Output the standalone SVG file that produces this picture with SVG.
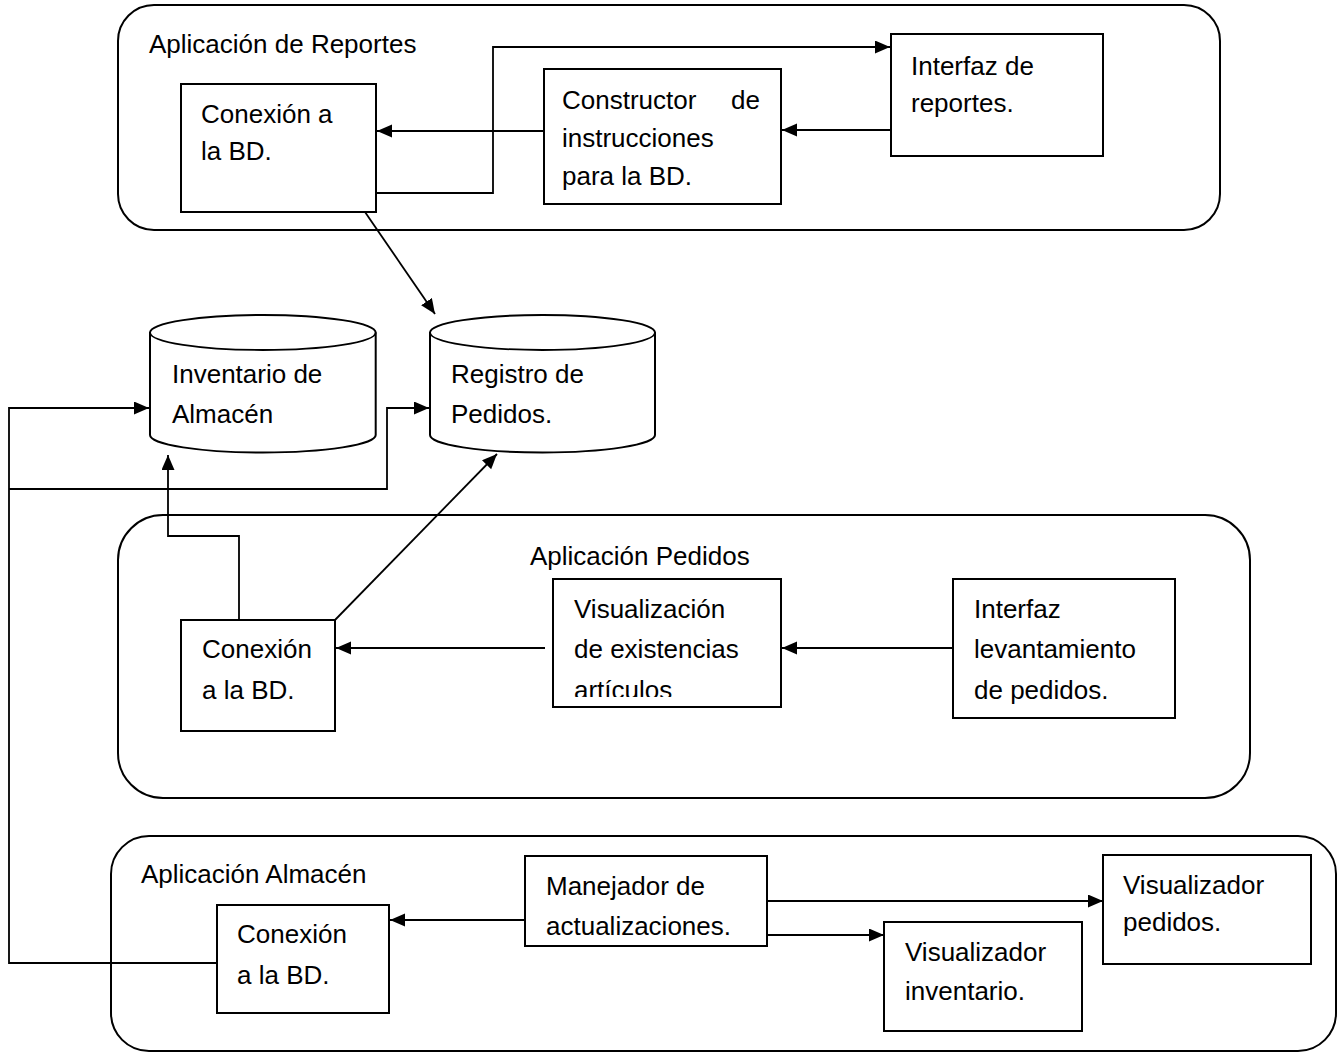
<svg xmlns="http://www.w3.org/2000/svg" width="1339" height="1054" viewBox="0 0 1339 1054">
  <style>
    .frame { fill: none; stroke: #000; stroke-width: 2; }
    .box { fill: #fff; stroke: #000; stroke-width: 2; }
    .db { fill: #fff; stroke: #000; stroke-width: 2; }
    .wire { fill: none; stroke: #000; stroke-width: 1.8; }
    text { font-family: "Liberation Sans", Arial, sans-serif; font-size: 26px; fill: #000; }
  </style>
  <defs>
    <marker id="arrow" markerUnits="userSpaceOnUse" markerWidth="16" markerHeight="14" refX="15" refY="6.5" orient="auto">
      <path d="M0,0 L15,6.5 L0,13 z" fill="#000"/>
    </marker>
    <clipPath id="clip-visualizacion">
      <rect x="553" y="580" width="227" height="117"/>
    </clipPath>
  </defs>

  <rect width="1339" height="1054" fill="#fff"/>

  <!-- application containers -->
  <g id="app-reportes">
    <rect class="frame" x="118" y="5" width="1102" height="225" rx="36" ry="36"/>
    <text x="149" y="53">Aplicación de Reportes</text>
  </g>
  <g id="app-pedidos">
    <rect class="frame" x="118" y="515" width="1132" height="283" rx="45" ry="45"/>
    <text x="530" y="565">Aplicación Pedidos</text>
  </g>
  <g id="app-almacen">
    <rect class="frame" x="111" y="836" width="1225" height="215" rx="38" ry="38"/>
    <text x="141" y="883">Aplicación Almacén</text>
  </g>

  <!-- connectors -->
  <g id="connectors">
    <line class="wire" x1="544" y1="131" x2="377" y2="131" marker-end="url(#arrow)"/>
    <line class="wire" x1="891" y1="130" x2="782" y2="130" marker-end="url(#arrow)"/>
    <polyline class="wire" points="376,193 493,193 493,47 890,47" marker-end="url(#arrow)"/>
    <line class="wire" x1="365" y1="212" x2="435" y2="314" marker-end="url(#arrow)"/>
    <polyline class="wire" points="217,963 9,963 9,408 149,408" marker-end="url(#arrow)"/>
    <polyline class="wire" points="9,489 387,489 387,408 429,408" marker-end="url(#arrow)"/>
    <polyline class="wire" points="239,620 239,536 168,536 168,455" marker-end="url(#arrow)"/>
    <line class="wire" x1="335" y1="620" x2="497" y2="454" marker-end="url(#arrow)"/>
    <line class="wire" x1="545" y1="648" x2="336" y2="648" marker-end="url(#arrow)"/>
    <line class="wire" x1="953" y1="648" x2="782" y2="648" marker-end="url(#arrow)"/>
    <line class="wire" x1="525" y1="920" x2="390" y2="920" marker-end="url(#arrow)"/>
    <line class="wire" x1="767" y1="901" x2="1103" y2="901" marker-end="url(#arrow)"/>
    <line class="wire" x1="767" y1="935" x2="884" y2="935" marker-end="url(#arrow)"/>
  </g>

  <!-- Aplicación de Reportes -->
  <g id="reportes-conexion">
    <rect class="box" x="181" y="84" width="195" height="128"/>
    <text x="201" y="123">Conexión a</text>
    <text x="201" y="160">la BD.</text>
  </g>
  <g id="reportes-constructor">
    <rect class="box" x="544" y="69" width="237" height="135"/>
    <text x="562" y="109">Constructor</text>
    <text x="760" y="109" text-anchor="end">de</text>
    <text x="562" y="147">instrucciones</text>
    <text x="562" y="185">para la BD.</text>
  </g>
  <g id="reportes-interfaz">
    <rect class="box" x="891" y="34" width="212" height="122"/>
    <text x="911" y="75">Interfaz de</text>
    <text x="911" y="112">reportes.</text>
  </g>

  <!-- databases -->
  <g id="db-inventario">
    <path class="db" d="M150,332.5 A112.85,17.5 0 0 1 375.7,332.5 L375.7,435 A112.85,17.5 0 0 1 150,435 Z"/>
    <path class="wire" d="M150,332.5 A112.85,17.5 0 0 0 375.7,332.5" stroke-width="2"/>
    <text x="172" y="383">Inventario de</text>
    <text x="172" y="423">Almacén</text>
  </g>
  <g id="db-registro">
    <path class="db" d="M430,332.5 A112.5,17.5 0 0 1 655,332.5 L655,435 A112.5,17.5 0 0 1 430,435 Z"/>
    <path class="wire" d="M430,332.5 A112.5,17.5 0 0 0 655,332.5" stroke-width="2"/>
    <text x="451" y="383">Registro de</text>
    <text x="451" y="423">Pedidos.</text>
  </g>

  <!-- Aplicación Pedidos -->
  <g id="pedidos-conexion">
    <rect class="box" x="181" y="620" width="154" height="111"/>
    <text x="202" y="658">Conexión</text>
    <text x="202" y="699">a la BD.</text>
  </g>
  <g id="pedidos-visualizacion">
    <rect class="box" x="553" y="579" width="228" height="128"/>
    <g clip-path="url(#clip-visualizacion)">
      <text x="574" y="618">Visualización</text>
      <text x="574" y="658">de existencias</text>
      <text x="574" y="699">artículos</text>
    </g>
  </g>
  <g id="pedidos-interfaz">
    <rect class="box" x="953" y="579" width="222" height="139"/>
    <text x="974" y="618">Interfaz</text>
    <text x="974" y="658">levantamiento</text>
    <text x="974" y="699">de pedidos.</text>
  </g>

  <!-- Aplicación Almacén -->
  <g id="almacen-conexion">
    <rect class="box" x="217" y="905" width="172" height="108"/>
    <text x="237" y="943">Conexión</text>
    <text x="237" y="984">a la BD.</text>
  </g>
  <g id="almacen-manejador">
    <rect class="box" x="525" y="856" width="242" height="90"/>
    <text x="546" y="895">Manejador de</text>
    <text x="546" y="935">actualizaciones.</text>
  </g>
  <g id="almacen-vis-inventario">
    <rect class="box" x="884" y="922" width="198" height="109"/>
    <text x="905" y="961">Visualizador</text>
    <text x="905" y="1000">inventario.</text>
  </g>
  <g id="almacen-vis-pedidos">
    <rect class="box" x="1103" y="855" width="208" height="109"/>
    <text x="1123" y="894">Visualizador</text>
    <text x="1123" y="931">pedidos.</text>
  </g>
</svg>
